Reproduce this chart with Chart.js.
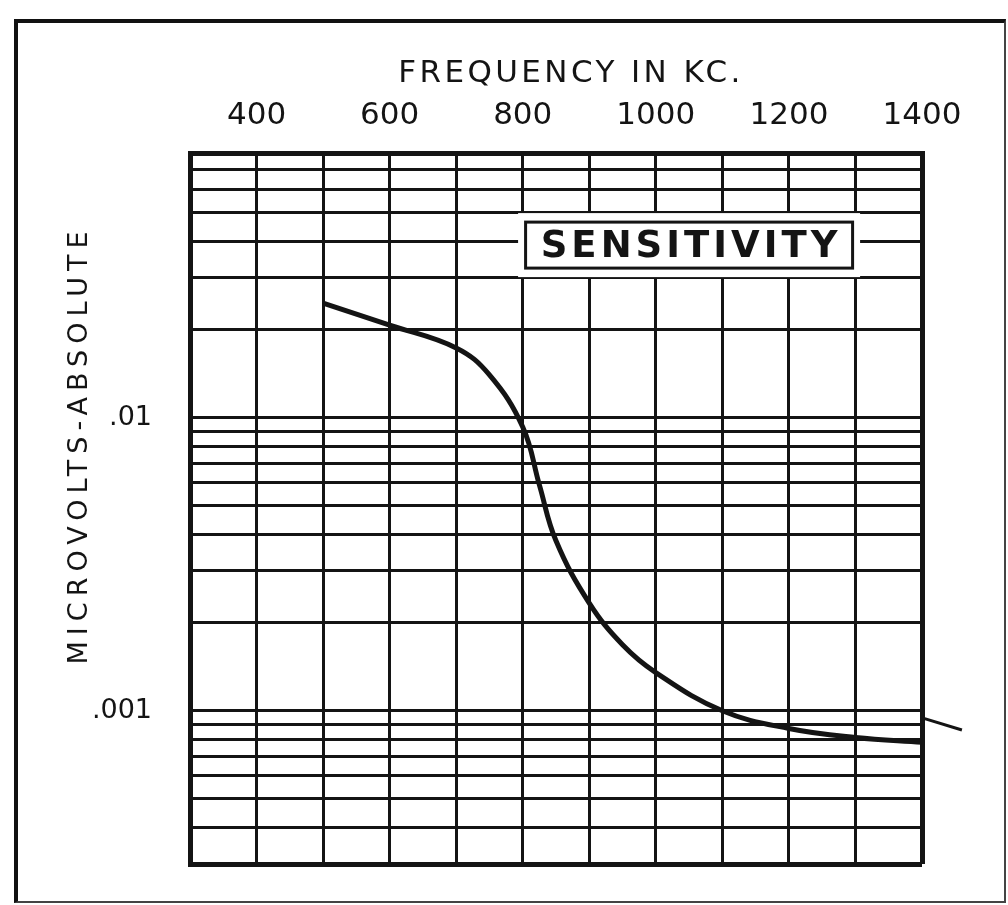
<!DOCTYPE html>
<html>
<head>
<meta charset="utf-8">
<script src="https://cdn.jsdelivr.net/npm/chart.js@4.4.1/dist/chart.umd.min.js"></script>
<style>
	html, body { margin: 0; padding: 0; background: #fff; }
	#wrap { position: relative; width: 1008px; height: 905px; }
	#frame {
		position: absolute; left: 14px; top: 19px; width: 986px; height: 878px;
		border-left: 4px solid #111; border-top: 4px solid #111;
		border-right: 2px solid #444; border-bottom: 2px solid #444;
		pointer-events: none;
	}
</style>
</head>
<body>
<div id="wrap">
	<canvas id="SensChart" width="1008" height="905"></canvas>
	<div id="frame"></div>
</div>
<script>
'use strict';
// frequency (kc) and sensitivity (microvolts)
const frequencies = [500, 600, 700, 750, 800, 825, 850, 900, 950, 1000, 1100, 1200, 1300, 1400];
const sensitivity = [0.0246, 0.0207, 0.0173, 0.0140, 0.0093, 0.0059, 0.0038, 0.00233, 0.00168, 0.00135, 0.00100, 0.00087, 0.00081, 0.00078];
// short stray stroke just right of the frame
const tailFrequencies = [1404, 1460];
const tailValues = [0.00094, 0.00086];

const xGridValues = [300, 400, 500, 600, 700, 800, 900, 1000, 1100, 1200, 1300, 1400];
const xLabelValues = [400, 600, 800, 1000, 1200, 1400];
const yGridValues = [0.0003, 0.0004, 0.0005, 0.0006, 0.0007, 0.0008, 0.0009, 0.001, 0.002, 0.003, 0.004, 0.005, 0.006, 0.007, 0.008, 0.009, 0.01, 0.02, 0.03, 0.04, 0.05, 0.06, 0.07, 0.08];
const yLabelValues = [0.001, 0.01];
const yLabelText = ['.001', '.01'];

const ink = '#141414';
const fontFamily = '"DejaVu Sans", sans-serif';

function toPoints(xs, ys) {
	return xs.map((x, i) => ({ x: x, y: ys[i] }));
}

// axis titles drawn by hand: the old chart uses letter-spaced lettering
const axisTitlesPlugin = {
	id: 'axisTitles',
	afterDraw(chart, args, opts) {
		const ctx = chart.ctx;
		ctx.save();
		ctx.fillStyle = ink;
		ctx.textAlign = 'center';
		ctx.textBaseline = 'middle';
		ctx.font = opts.xFont;
		ctx.letterSpacing = opts.xSpacing;
		ctx.fillText(opts.xText, opts.xPos[0], opts.xPos[1]);
		ctx.translate(opts.yPos[0], opts.yPos[1]);
		ctx.rotate(-Math.PI / 2);
		ctx.font = opts.yFont;
		ctx.letterSpacing = opts.ySpacing;
		ctx.fillText(opts.yText, 0, 0);
		ctx.restore();
	}
};

const labelBoxPlugin = {
	id: 'labelBox',
	afterDraw(chart, args, opts) {
		const ctx = chart.ctx;
		const cx = chart.scales.x.getPixelForValue(opts.xValue);
		const cy = chart.scales.y.getPixelForValue(opts.yValue);
		ctx.save();
		ctx.fillStyle = '#fff';
		ctx.fillRect(cx - opts.maskW / 2, cy - opts.maskH / 2, opts.maskW, opts.maskH);
		ctx.strokeStyle = ink;
		ctx.lineWidth = 3;
		ctx.strokeRect(cx - opts.boxW / 2, cy - opts.boxH / 2, opts.boxW, opts.boxH);
		ctx.font = opts.font;
		ctx.letterSpacing = opts.spacing;
		ctx.fillStyle = ink;
		ctx.textAlign = 'center';
		ctx.textBaseline = 'middle';
		ctx.fillText(opts.text, cx + 2, cy + 2);
		ctx.restore();
	}
};

new Chart(document.getElementById('SensChart'), {
	type: 'line',
	data: {
		datasets: [
			{
				data: toPoints(frequencies, sensitivity),
				borderColor: ink,
				borderWidth: 5,
				pointRadius: 0,
				tension: 0.4,
				fill: false,
			},
			{
				data: toPoints(tailFrequencies, tailValues),
				borderColor: ink,
				borderWidth: 3,
				pointRadius: 0,
				fill: false,
				clip: false,
			},
		],
	},
	options: {
		responsive: false,
		animation: false,
		layout: { padding: { left: 0, top: 0, right: 86, bottom: 41 } },
		plugins: {
			legend: { display: false },
			tooltip: { enabled: false },
			axisTitles: {
				xText: 'FREQUENCY IN KC.',
				xPos: [571, 74],
				xFont: '31px ' + fontFamily,
				xSpacing: '3.4px',
				yText: 'MICROVOLTS-ABSOLUTE',
				yPos: [80, 445],
				yFont: '27px ' + fontFamily,
				ySpacing: '6px',
			},
			labelBox: {
				text: 'SENSITIVITY',
				xValue: 1050, yValue: 0.0388,
				maskW: 342, maskH: 64,
				boxW: 327, boxH: 46,
				font: 'bold 37px ' + fontFamily,
				spacing: '4px',
			},
		},
		scales: {
			x: {
				type: 'linear',
				position: 'top',
				min: 300,
				max: 1400,
				afterBuildTicks: (scale) => { scale.ticks = xGridValues.map((v) => ({ value: v })); },
				afterFit: (scale) => { scale.height = 153; },
				ticks: {
					autoSkip: false,
					maxRotation: 0,
					padding: 18,
					color: ink,
					font: { family: fontFamily, size: 31 },
					callback: (value) => (xLabelValues.includes(value) ? String(value) : ''),
				},
				grid: {
					color: ink,
					drawTicks: false,
					lineWidth: (c) => (c.tick && (c.tick.value === 300 || c.tick.value === 1400) ? 5 : 3),
				},
				border: { display: true, color: ink, width: 5 },
			},
			y: {
				type: 'logarithmic',
				position: 'left',
				min: 0.0003,
				max: 0.08,
				afterBuildTicks: (scale) => { scale.ticks = yGridValues.map((v) => ({ value: v })); },
				afterFit: (scale) => {
					scale.width = 190;
					scale.paddingTop = 0;
					scale.paddingBottom = 0;
				},
				ticks: {
					autoSkip: false,
					padding: 38,
					color: ink,
					font: { family: fontFamily, size: 27 },
					callback: (value) => {
						const i = yLabelValues.findIndex((v) => Math.abs(v - value) < v * 1e-6);
						return i >= 0 ? yLabelText[i] : '';
					},
				},
				grid: {
					color: ink,
					drawTicks: false,
					lineWidth: (c) => (c.tick && (c.tick.value === 0.0003 || c.tick.value === 0.08) ? 5 : 3),
				},
				border: { display: true, color: ink, width: 5 },
			},
		},
	},
	plugins: [axisTitlesPlugin, labelBoxPlugin],
});
</script>
</body>
</html>
